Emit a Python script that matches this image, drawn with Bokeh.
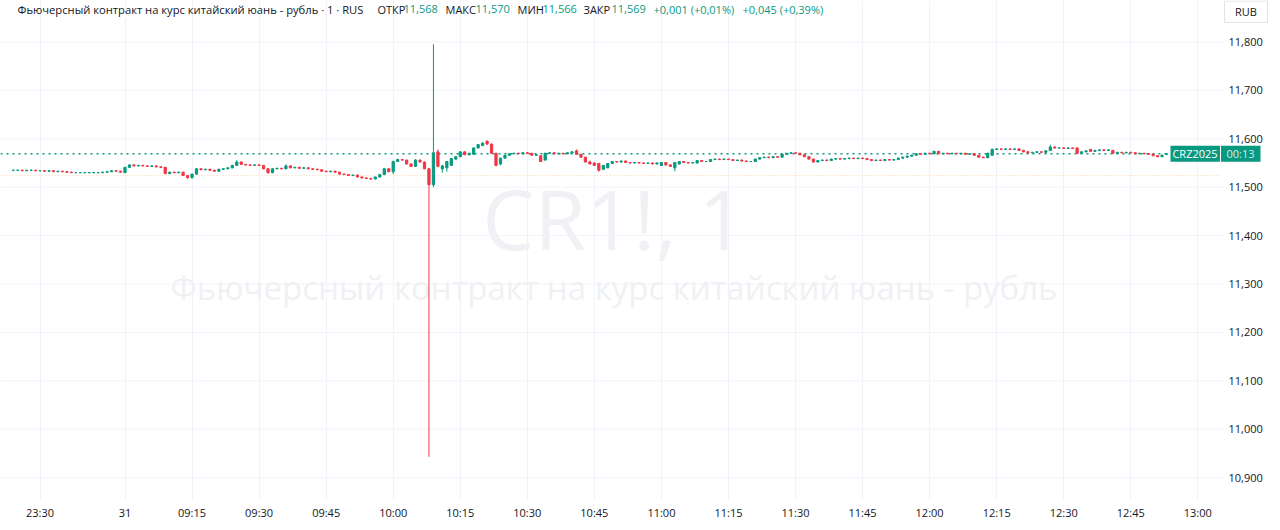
from bokeh.plotting import figure
from bokeh.models import Range1d, FixedTicker, ColumnDataSource
from bokeh.core.properties import value
from bokeh.embed import file_html
from bokeh.resources import INLINE

# ---------------- data ----------------
TITLE = "Фьючерсный контракт на курс китайский юань - рубль"
HEADER_TITLE = "Фьючерсный контракт на курс китайский юань - рубль · 1 · RUS"
SYMBOL = "CR1!, 1"
CONTRACT = "CRZ2025"
COUNTDOWN = "00:13"
CURRENCY = "RUB"
CHANGE_BAR = "+0,001 (+0,01%)"
CHANGE_DAY = "+0,045 (+0,39%)"
PREV_CLOSE = 11.524

EVENING_FIRST = "23:24"   # first evening bar shown (previous day)
EVENING_LAST = "23:49"    # bar index 0 (09:00) follows the evening session
DAY_FIRST = "09:00"

evening_open = [11.535, 11.535, 11.535, 11.534, 11.535, 11.535, 11.534, 11.534, 11.533, 11.534,
                11.532, 11.533, 11.532, 11.531, 11.530, 11.530, 11.530, 11.530, 11.530, 11.530,
                11.530, 11.531, 11.532, 11.534, 11.533]
evening_high = [11.536, 11.536, 11.536, 11.536, 11.536, 11.536, 11.535, 11.535, 11.535, 11.535,
                11.534, 11.534, 11.533, 11.532, 11.531, 11.531, 11.531, 11.531, 11.531, 11.531,
                11.532, 11.533, 11.535, 11.535, 11.534]
evening_low = [11.534, 11.534, 11.533, 11.533, 11.534, 11.533, 11.533, 11.532, 11.532, 11.531,
               11.531, 11.531, 11.530, 11.529, 11.529, 11.529, 11.529, 11.529, 11.529, 11.529,
               11.529, 11.530, 11.531, 11.532, 11.530]
evening_close = [11.535, 11.535, 11.534, 11.535, 11.535, 11.534, 11.534, 11.533, 11.534, 11.532,
                 11.533, 11.532, 11.531, 11.530, 11.530, 11.530, 11.530, 11.530, 11.530, 11.530,
                 11.531, 11.532, 11.534, 11.533, 11.531]

day_open = [
    11.530, 11.541, 11.546, 11.544, 11.545, 11.544, 11.543, 11.544, 11.542, 11.541,
    11.528, 11.531, 11.530, 11.531, 11.524, 11.520, 11.527, 11.538, 11.536, 11.537,
    11.535, 11.533, 11.537, 11.538, 11.540, 11.545, 11.552, 11.547, 11.546, 11.545,
    11.546, 11.545, 11.538, 11.530, 11.538, 11.539, 11.538, 11.544, 11.540, 11.541,
    11.539, 11.540, 11.538, 11.537, 11.536, 11.533, 11.532, 11.533, 11.531, 11.527,
    11.526, 11.524, 11.525, 11.521, 11.519, 11.518, 11.517, 11.521, 11.526, 11.538,
    11.532, 11.553, 11.557, 11.556, 11.548, 11.543, 11.556, 11.552, 11.538, 11.505,
    11.573, 11.538, 11.540, 11.545, 11.558, 11.563, 11.573, 11.567, 11.568, 11.581,
    11.586, 11.595, 11.589, 11.570, 11.548, 11.560, 11.566, 11.569, 11.570, 11.569,
    11.571, 11.570, 11.566, 11.565, 11.556, 11.570, 11.571, 11.569, 11.570, 11.569,
    11.571, 11.575, 11.568, 11.562, 11.552, 11.550, 11.549, 11.537, 11.540, 11.549,
    11.553, 11.552, 11.554, 11.551, 11.550, 11.551, 11.550, 11.549, 11.550, 11.548,
    11.545, 11.551, 11.546, 11.540, 11.548, 11.553, 11.551, 11.550, 11.550, 11.555,
    11.553, 11.553, 11.557, 11.558, 11.557, 11.558, 11.557, 11.555, 11.556, 11.554,
    11.553, 11.553, 11.558, 11.561, 11.562, 11.561, 11.563, 11.562, 11.568, 11.570,
    11.571, 11.570, 11.567, 11.563, 11.558, 11.552, 11.555, 11.556, 11.555, 11.558,
    11.559, 11.558, 11.559, 11.560, 11.559, 11.560, 11.559, 11.557, 11.555, 11.556,
    11.555, 11.557, 11.556, 11.557, 11.560, 11.562, 11.564, 11.566, 11.569, 11.568,
    11.570, 11.569, 11.574, 11.569, 11.570, 11.569, 11.570, 11.569, 11.570, 11.568,
    11.569, 11.566, 11.562, 11.561, 11.566, 11.578, 11.579, 11.578, 11.579, 11.578,
    11.579, 11.576, 11.573, 11.571, 11.572, 11.573, 11.572, 11.576, 11.583, 11.581,
    11.581, 11.580, 11.581, 11.581, 11.570, 11.573, 11.578, 11.574, 11.576, 11.577,
    11.576, 11.576, 11.570, 11.572, 11.571, 11.572, 11.571, 11.569, 11.570, 11.569,
    11.568, 11.565, 11.563, 11.568]
day_high = [
    11.542, 11.547, 11.547, 11.546, 11.546, 11.545, 11.545, 11.545, 11.543, 11.542,
    11.532, 11.532, 11.532, 11.532, 11.525, 11.528, 11.539, 11.539, 11.538, 11.538,
    11.536, 11.538, 11.539, 11.541, 11.546, 11.556, 11.553, 11.548, 11.547, 11.547,
    11.547, 11.546, 11.539, 11.539, 11.540, 11.540, 11.547, 11.545, 11.542, 11.542,
    11.541, 11.541, 11.539, 11.538, 11.537, 11.534, 11.534, 11.534, 11.532, 11.528,
    11.527, 11.526, 11.526, 11.522, 11.520, 11.519, 11.522, 11.527, 11.539, 11.539,
    11.555, 11.559, 11.558, 11.557, 11.549, 11.558, 11.557, 11.553, 11.540, 11.795,
    11.578, 11.546, 11.554, 11.560, 11.564, 11.574, 11.574, 11.571, 11.582, 11.589,
    11.593, 11.597, 11.590, 11.571, 11.561, 11.567, 11.570, 11.571, 11.571, 11.572,
    11.572, 11.571, 11.568, 11.566, 11.571, 11.572, 11.572, 11.571, 11.571, 11.572,
    11.574, 11.578, 11.569, 11.563, 11.555, 11.551, 11.550, 11.546, 11.550, 11.554,
    11.554, 11.555, 11.555, 11.552, 11.552, 11.552, 11.551, 11.551, 11.551, 11.551,
    11.552, 11.552, 11.547, 11.552, 11.554, 11.554, 11.552, 11.552, 11.556, 11.556,
    11.554, 11.558, 11.559, 11.559, 11.559, 11.559, 11.558, 11.557, 11.557, 11.555,
    11.554, 11.559, 11.562, 11.563, 11.563, 11.564, 11.564, 11.569, 11.571, 11.572,
    11.572, 11.571, 11.568, 11.564, 11.559, 11.556, 11.557, 11.557, 11.559, 11.560,
    11.560, 11.560, 11.561, 11.561, 11.561, 11.561, 11.560, 11.558, 11.557, 11.557,
    11.558, 11.558, 11.558, 11.561, 11.563, 11.565, 11.567, 11.570, 11.570, 11.571,
    11.571, 11.575, 11.575, 11.571, 11.571, 11.571, 11.571, 11.571, 11.571, 11.570,
    11.570, 11.567, 11.563, 11.571, 11.580, 11.580, 11.580, 11.580, 11.580, 11.580,
    11.580, 11.577, 11.574, 11.573, 11.574, 11.574, 11.576, 11.588, 11.584, 11.582,
    11.582, 11.582, 11.582, 11.582, 11.574, 11.576, 11.579, 11.577, 11.578, 11.578,
    11.578, 11.577, 11.573, 11.573, 11.573, 11.573, 11.572, 11.571, 11.571, 11.570,
    11.569, 11.566, 11.567, 11.570]
day_low = [
    11.529, 11.540, 11.543, 11.543, 11.543, 11.542, 11.542, 11.541, 11.540, 11.527,
    11.527, 11.529, 11.529, 11.523, 11.517, 11.517, 11.526, 11.535, 11.535, 11.534,
    11.532, 11.532, 11.536, 11.537, 11.539, 11.544, 11.546, 11.545, 11.544, 11.544,
    11.544, 11.537, 11.528, 11.529, 11.537, 11.537, 11.537, 11.539, 11.539, 11.538,
    11.538, 11.537, 11.536, 11.535, 11.532, 11.531, 11.531, 11.530, 11.526, 11.525,
    11.523, 11.523, 11.520, 11.518, 11.517, 11.515, 11.516, 11.520, 11.525, 11.531,
    11.527, 11.552, 11.555, 11.547, 11.542, 11.542, 11.551, 11.537, 10.943, 11.500,
    11.541, 11.530, 11.532, 11.544, 11.557, 11.562, 11.566, 11.566, 11.567, 11.580,
    11.585, 11.588, 11.569, 11.543, 11.545, 11.559, 11.565, 11.568, 11.568, 11.568,
    11.569, 11.565, 11.565, 11.552, 11.555, 11.569, 11.568, 11.568, 11.568, 11.568,
    11.570, 11.567, 11.561, 11.551, 11.547, 11.544, 11.532, 11.536, 11.539, 11.548,
    11.551, 11.551, 11.550, 11.549, 11.549, 11.549, 11.548, 11.548, 11.547, 11.547,
    11.544, 11.545, 11.542, 11.533, 11.547, 11.550, 11.549, 11.549, 11.549, 11.552,
    11.552, 11.552, 11.556, 11.556, 11.556, 11.556, 11.554, 11.554, 11.553, 11.552,
    11.552, 11.552, 11.557, 11.560, 11.560, 11.560, 11.561, 11.561, 11.567, 11.569,
    11.569, 11.566, 11.562, 11.557, 11.551, 11.551, 11.554, 11.554, 11.554, 11.557,
    11.557, 11.557, 11.558, 11.558, 11.558, 11.558, 11.556, 11.554, 11.554, 11.554,
    11.554, 11.555, 11.555, 11.556, 11.559, 11.561, 11.563, 11.565, 11.567, 11.567,
    11.568, 11.568, 11.568, 11.568, 11.568, 11.568, 11.568, 11.568, 11.567, 11.567,
    11.565, 11.561, 11.560, 11.560, 11.565, 11.577, 11.577, 11.577, 11.577, 11.577,
    11.575, 11.572, 11.570, 11.570, 11.571, 11.571, 11.571, 11.575, 11.580, 11.580,
    11.579, 11.579, 11.579, 11.569, 11.569, 11.572, 11.573, 11.573, 11.575, 11.575,
    11.575, 11.569, 11.569, 11.570, 11.570, 11.570, 11.568, 11.568, 11.568, 11.567,
    11.564, 11.562, 11.562, 11.566]
day_close = [
    11.541, 11.546, 11.544, 11.545, 11.544, 11.543, 11.544, 11.542, 11.541, 11.528,
    11.531, 11.530, 11.531, 11.524, 11.520, 11.527, 11.538, 11.536, 11.537, 11.535,
    11.533, 11.537, 11.538, 11.540, 11.545, 11.552, 11.547, 11.546, 11.545, 11.546,
    11.545, 11.538, 11.530, 11.538, 11.539, 11.538, 11.544, 11.540, 11.541, 11.539,
    11.540, 11.538, 11.537, 11.536, 11.533, 11.532, 11.533, 11.531, 11.527, 11.526,
    11.524, 11.525, 11.521, 11.519, 11.518, 11.517, 11.521, 11.526, 11.538, 11.532,
    11.553, 11.557, 11.556, 11.548, 11.543, 11.556, 11.552, 11.538, 11.505, 11.571,
    11.543, 11.544, 11.553, 11.559, 11.563, 11.573, 11.567, 11.570, 11.581, 11.588,
    11.591, 11.589, 11.570, 11.545, 11.560, 11.566, 11.569, 11.570, 11.569, 11.571,
    11.570, 11.566, 11.567, 11.553, 11.570, 11.571, 11.569, 11.570, 11.569, 11.571,
    11.573, 11.568, 11.562, 11.552, 11.548, 11.545, 11.535, 11.545, 11.549, 11.553,
    11.552, 11.554, 11.551, 11.550, 11.551, 11.550, 11.549, 11.550, 11.548, 11.550,
    11.551, 11.546, 11.543, 11.551, 11.553, 11.551, 11.550, 11.551, 11.555, 11.553,
    11.553, 11.557, 11.558, 11.557, 11.558, 11.557, 11.555, 11.556, 11.554, 11.553,
    11.553, 11.558, 11.561, 11.562, 11.561, 11.563, 11.562, 11.568, 11.570, 11.571,
    11.570, 11.567, 11.563, 11.558, 11.552, 11.555, 11.556, 11.555, 11.558, 11.559,
    11.558, 11.559, 11.560, 11.559, 11.560, 11.559, 11.557, 11.555, 11.556, 11.555,
    11.557, 11.556, 11.557, 11.560, 11.562, 11.564, 11.566, 11.569, 11.568, 11.570,
    11.569, 11.574, 11.569, 11.570, 11.569, 11.570, 11.569, 11.570, 11.568, 11.569,
    11.566, 11.562, 11.561, 11.570, 11.578, 11.579, 11.578, 11.579, 11.578, 11.579,
    11.576, 11.573, 11.571, 11.572, 11.573, 11.572, 11.575, 11.583, 11.581, 11.581,
    11.580, 11.581, 11.580, 11.570, 11.573, 11.575, 11.574, 11.576, 11.577, 11.576,
    11.577, 11.570, 11.572, 11.571, 11.572, 11.571, 11.569, 11.570, 11.569, 11.568,
    11.565, 11.563, 11.566, 11.569]

tick_times = ["23:30", "09:00", "09:15", "09:30", "09:45", "10:00", "10:15", "10:30", "10:45",
              "11:00", "11:15", "11:30", "11:45", "12:00", "12:15", "12:30", "12:45", "13:00"]
tick_labels = ["23:30", "31", "09:15", "09:30", "09:45", "10:00", "10:15", "10:30", "10:45",
               "11:00", "11:15", "11:30", "11:45", "12:00", "12:15", "12:30", "12:45", "13:00"]
price_ticks = [10.9, 11.0, 11.1, 11.2, 11.3, 11.4, 11.5, 11.6, 11.7, 11.8]

n_ev = len(evening_close)
n_day = len(day_close)
for arr in (evening_open, evening_high, evening_low):
    assert len(arr) == n_ev, len(arr)
for arr in (day_open, day_high, day_low):
    assert len(arr) == n_day, (len(arr), n_day)

# ---------------- styling / geometry ----------------
UP = "#089981"
DOWN = "#f23645"
TEXT = "#131722"
GRID = "#f0f3fa"
FONT = "Open Sans"

W, H = 1272, 522
BOTTOM_H = 19
FRAME_W, FRAME_H = W, H - BOTTOM_H
PANE_R = 1221          # right edge of the candle pane (price scale to its right)
PX_BAR = 4.47          # pixels per 1-minute bar
PX_UNIT = 487.0        # pixels per 1 RUB
ORIGIN_X = 124.5       # pixel x of bar index 0 (09:00)
Y_REF, Y_REF_PX = 11.8, 41.7   # price level and its pixel y

x_start = -ORIGIN_X / PX_BAR
x_end = x_start + FRAME_W / PX_BAR
y_end = Y_REF + Y_REF_PX / PX_UNIT
y_start = y_end - FRAME_H / PX_UNIT


def minutes(t):
    hh, mm = t.split(":")
    return int(hh) * 60 + int(mm)


def bar_index(t):
    mm = minutes(t)
    if mm >= 18 * 60:
        return mm - minutes(EVENING_LAST)
    return mm - minutes(DAY_FIRST)


def fx(px):  # pixel x -> data x
    return x_start + px / PX_BAR


def fy(py):  # pixel y (from top) -> data y
    return y_end - py / PX_UNIT


def fmt(v):
    return f"{v:.3f}".replace(".", ",")


ev_x = [bar_index(EVENING_FIRST) + i for i in range(n_ev)]
day_x = list(range(n_day))

xs = ev_x + day_x
o = evening_open + day_open
h = evening_high + day_high
l = evening_low + day_low
c = evening_close + day_close

colors = []
for i in range(len(c)):
    if c[i] > o[i]:
        colors.append(UP)
    elif c[i] < o[i]:
        colors.append(DOWN)
    else:
        prev = c[i - 1] if i > 0 else c[i]
        colors.append(UP if c[i] >= prev else DOWN)

src = ColumnDataSource(dict(x=xs, o=o, h=h, l=l, c=c,
                            top=[max(a, b) for a, b in zip(o, c)],
                            bot=[min(a, b) for a, b in zip(o, c)],
                            color=colors))

p = figure(width=W, height=H, output_backend="svg", toolbar_location=None,
           x_range=Range1d(x_start, x_end), y_range=Range1d(y_start, y_end),
           y_axis_location=None, min_border_left=0, min_border_top=0,
           min_border_right=0, min_border_bottom=BOTTOM_H,
           background_fill_color="white", border_fill_color="white")
p.outline_line_color = None

# time axis
xa = p.xaxis[0]
xa.ticker = FixedTicker(ticks=[bar_index(t) for t in tick_times])
xa.major_label_overrides = {bar_index(t): lab for t, lab in zip(tick_times, tick_labels)}
xa.axis_line_color = None
xa.major_tick_line_color = None
xa.minor_tick_line_color = None
xa.major_tick_out = 0
xa.major_tick_in = 0
xa.major_label_standoff = 4
xa.major_label_text_font = FONT
xa.major_label_text_font_size = "11px"
xa.major_label_text_color = TEXT
p.xgrid.grid_line_color = GRID
p.ygrid.visible = False

# horizontal grid lines (stop at the price scale)
p.segment(x0=[x_start] * len(price_ticks), y0=price_ticks,
          x1=[fx(PANE_R + 2)] * len(price_ticks), y1=price_ticks,
          line_color=GRID, line_width=1)

# price scale labels
p.text(x=[fx(1228)] * len(price_ticks), y=price_ticks, text=[fmt(v) for v in price_ticks],
       text_align="left", text_baseline="middle", text_font=value(FONT),
       text_font_size="11px", text_color=TEXT)

# watermark
mid_x = fx(PANE_R / 2 + 3)
p.text(x=[mid_x], y=[fy(218)], text=[SYMBOL], text_align="center", text_baseline="middle",
       text_font=value(FONT), text_font_size="83px", text_color="#eff1f4")
p.text(x=[mid_x], y=[fy(289)], text=[TITLE], text_align="center", text_baseline="middle",
       text_font=value(FONT), text_font_size="33px", text_color="#eff1f4")

# previous close & last price lines
p.segment(x0=[x_start], y0=[PREV_CLOSE], x1=[fx(PANE_R)], y1=[PREV_CLOSE],
          line_color="#f7b267", line_alpha=0.55, line_dash="1 2", line_width=1)
p.segment(x0=[x_start], y0=[day_close[-1]], x1=[fx(1170)], y1=[day_close[-1]],
          line_color=UP, line_dash="2 4", line_width=1.5)

# candles
p.segment(x0="x", y0="l", x1="x", y1="h", color="color", line_width=1, source=src)
p.vbar(x="x", width=0.5, top="top", bottom="bot", fill_color="color",
       line_color="color", line_width=1, source=src)

# header legend
header = [
    (17, HEADER_TITLE, TEXT, "11.2px"),
    (377, "ОТКР", TEXT, "11px"), (403, fmt(day_open[-1]), UP, "11px"),
    (445, "МАКС", TEXT, "11px"), (475, fmt(day_high[-1]), UP, "11px"),
    (517, "МИН", TEXT, "11px"), (542, fmt(day_low[-1]), UP, "11px"),
    (583, "ЗАКР", TEXT, "11px"), (611, fmt(day_close[-1]), UP, "11px"),
    (653, CHANGE_BAR, UP, "11px"), (742, CHANGE_DAY, UP, "11px"),
]
for px, txt, col, fs in header:
    p.text(x=[fx(px)], y=[fy(9)], text=[txt], text_align="left", text_baseline="middle",
           text_font=value(FONT), text_font_size=fs, text_color=col)

# price scale currency button
p.quad(left=[fx(1224)], right=[fx(1267)], top=[fy(0.5)], bottom=[fy(22)],
       fill_color="white", line_color="#e0e3eb", line_width=1)
p.text(x=[fx(1245.5)], y=[fy(11)], text=[CURRENCY], text_align="center",
       text_baseline="middle", text_font=value(FONT), text_font_size="11px", text_color=TEXT)

# last price labels
last = day_close[-1]
box_half = 8 / PX_UNIT
p.quad(left=[fx(1170)], right=[fx(1219.5)], top=[last + box_half], bottom=[last - box_half],
       fill_color=UP, line_color=None)
p.quad(left=[fx(1220.5)], right=[fx(1260)], top=[last + box_half], bottom=[last - box_half],
       fill_color=UP, line_color=None)
p.text(x=[fx(1194.5)], y=[last], text=[CONTRACT], text_align="center", text_baseline="middle",
       text_font=value(FONT), text_font_size="11px", text_color="white")
p.text(x=[fx(1240)], y=[last], text=[COUNTDOWN], text_align="center", text_baseline="middle",
       text_font=value(FONT), text_font_size="11px", text_color="#d3eee8")

open("out.html", "w").write(file_html(p, INLINE))
